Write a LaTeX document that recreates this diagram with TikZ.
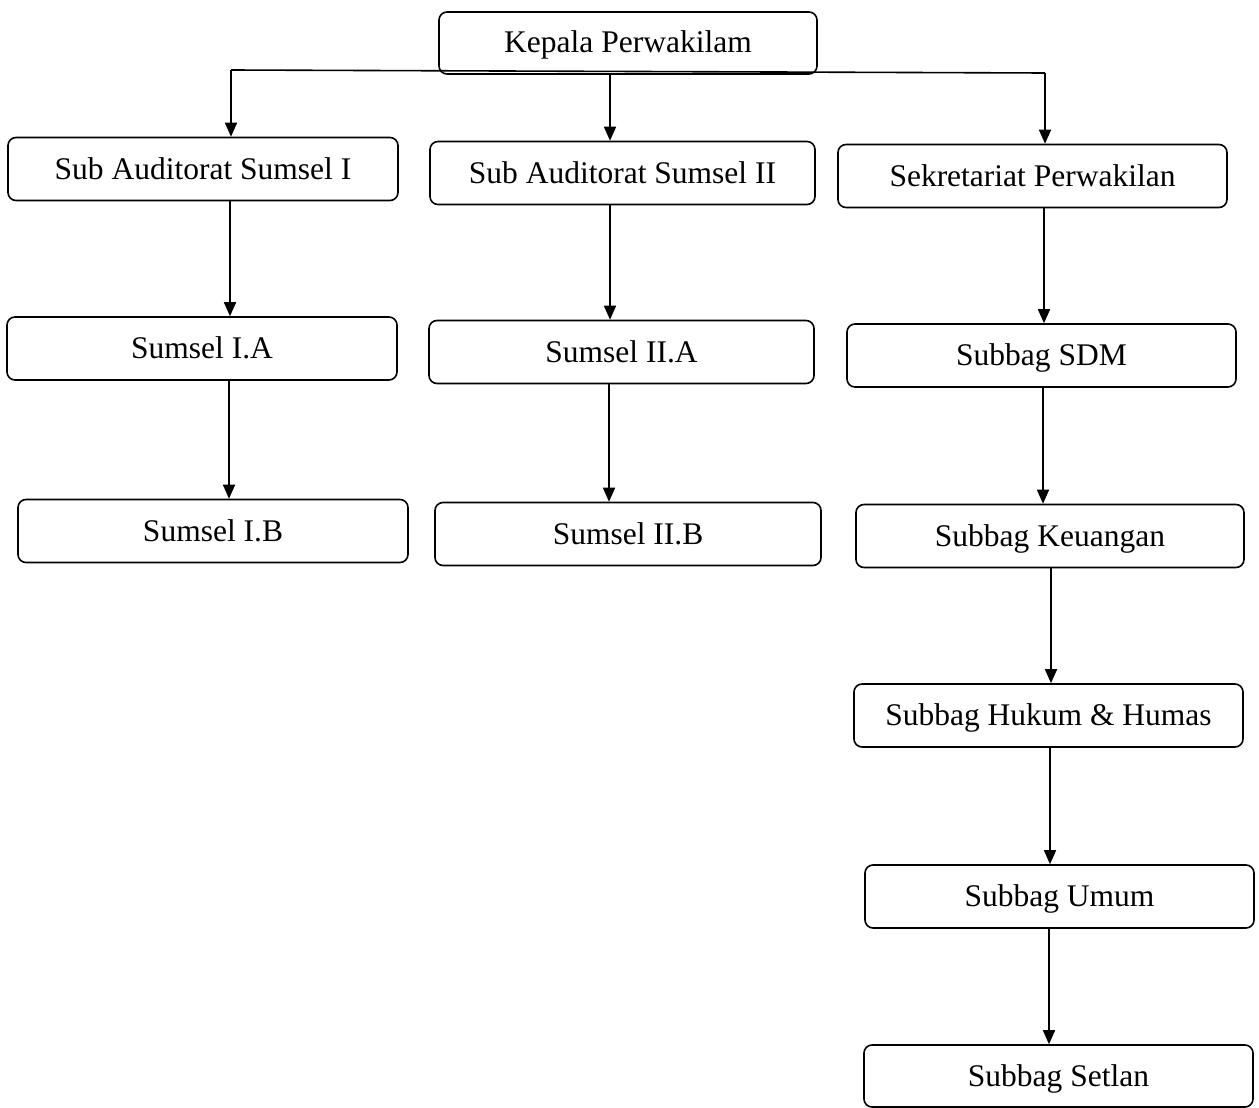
\documentclass[tikz,border=0pt]{standalone}
\usepackage{fontspec}
\setmainfont{Liberation Serif}
\usetikzlibrary{arrows.meta}
\begin{document}
\begin{tikzpicture}[x=1pt,y=-1pt,
  box/.style={draw, line width=1.6pt, rounded corners=8pt, inner sep=0pt,
    minimum height=63pt, text height=24pt, text depth=4pt,
    font=\fontsize{31.5}{36}\selectfont},
  link/.style={line width=1.6pt},
  arr/.style={line width=1.6pt, -{Triangle[length=14pt,width=12pt]}}]
\useasboundingbox (0,0) rectangle (1259,1108);
% boxes
\node[box, minimum width=378pt, minimum height=62pt] (kep) at (628,43) {Kepala Perwakilam};
\node[box, minimum width=390pt] (sa1) at (203,169) {Sub Auditorat Sumsel I};
\node[box, minimum width=385pt] (sa2) at (622.5,173) {Sub Auditorat Sumsel II};
\node[box, minimum width=389pt] (sek) at (1032.5,176) {Sekretariat Perwakilan};
\node[box, minimum width=390pt] (ia) at (202,348.5) {Sumsel I.A};
\node[box, minimum width=385pt] (iia) at (621.5,352) {Sumsel II.A};
\node[box, minimum width=389pt] (sdm) at (1041.5,355.5) {Subbag SDM};
\node[box, minimum width=390pt] (ib) at (213,531) {Sumsel I.B};
\node[box, minimum width=386pt] (iib) at (628,534) {Sumsel II.B};
\node[box, minimum width=388pt] (keu) at (1050,536) {Subbag Keuangan};
\node[box, minimum width=389pt] (huk) at (1048.5,715.5) {Subbag Hukum \& Humas};
\node[box, minimum width=389pt] (umum) at (1059.5,896.5) {Subbag Umum};
\node[box, minimum width=389pt, minimum height=62pt] (set) at (1058.5,1076) {Subbag Setlan};
% top distribution line
\coordinate (jl) at (231,70);
\coordinate (jr) at (1045,73);
\draw[link] (jl) -- (jr);
\draw[arr] (jl) -- (jl |- sa1.north);
\draw[arr] (jr) -- (jr |- sek.north);
\draw[arr] ([xshift=-18pt]kep.south) -- ([xshift=-18pt]kep.south |- sa2.north);
% left column
\draw[arr] ([xshift=27pt]sa1.south) -- ([xshift=27pt]sa1.south |- ia.north);
\draw[arr] ([xshift=27pt]ia.south) -- ([xshift=27pt]ia.south |- ib.north);
% middle column
\draw[arr] ([xshift=-12.5pt]sa2.south) -- ([xshift=-12.5pt]sa2.south |- iia.north);
\draw[arr] ([xshift=-12.5pt]iia.south) -- ([xshift=-12.5pt]iia.south |- iib.north);
% right column
\draw[arr] ([xshift=11.5pt]sek.south) -- ([xshift=11.5pt]sek.south |- sdm.north);
\draw[arr] ([xshift=1.5pt]sdm.south) -- ([xshift=1.5pt]sdm.south |- keu.north);
\draw[arr] ([xshift=1pt]keu.south) -- ([xshift=1pt]keu.south |- huk.north);
\draw[arr] ([xshift=1.5pt]huk.south) -- ([xshift=1.5pt]huk.south |- umum.north);
\draw[arr] ([xshift=-10.5pt]umum.south) -- ([xshift=-10.5pt]umum.south |- set.north);
\end{tikzpicture}
\end{document}
